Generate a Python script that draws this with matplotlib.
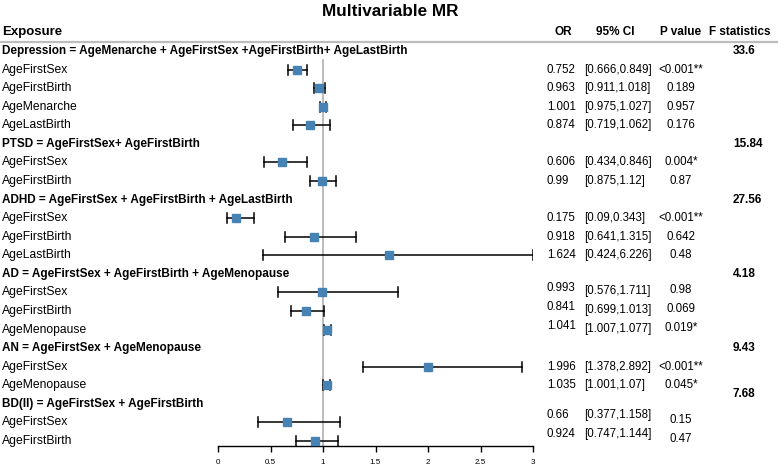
import numpy as np
import matplotlib.pyplot as plt

plt.rcParams['font.family'] = ['Liberation Sans', 'DejaVu Sans']

# data
group_titles = [
    'Depression = AgeMenarche + AgeFirstSex +AgeFirstBirth+ AgeLastBirth',
    'PTSD = AgeFirstSex+ AgeFirstBirth',
    'ADHD = AgeFirstSex + AgeFirstBirth + AgeLastBirth',
    'AD = AgeFirstSex + AgeFirstBirth + AgeMenopause',
    'AN = AgeFirstSex + AgeMenopause',
    'BD(II) = AgeFirstSex + AgeFirstBirth',
]
f_stats = ['33.6', '15.84', '27.56', '4.18', '9.43', '7.68']
exposures = [
    ['AgeFirstSex', 'AgeFirstBirth', 'AgeMenarche', 'AgeLastBirth'],
    ['AgeFirstSex', 'AgeFirstBirth'],
    ['AgeFirstSex', 'AgeFirstBirth', 'AgeLastBirth'],
    ['AgeFirstSex', 'AgeFirstBirth', 'AgeMenopause'],
    ['AgeFirstSex', 'AgeMenopause'],
    ['AgeFirstSex', 'AgeFirstBirth'],
]
or_vals = [
    [0.752, 0.963, 1.001, 0.874],
    [0.606, 0.99],
    [0.175, 0.918, 1.624],
    [0.993, 0.841, 1.041],
    [1.996, 1.035],
    [0.66, 0.924],
]
ci_lo = [
    [0.666, 0.911, 0.975, 0.719],
    [0.434, 0.875],
    [0.09, 0.641, 0.424],
    [0.576, 0.699, 1.007],
    [1.378, 1.001],
    [0.377, 0.747],
]
ci_hi = [
    [0.849, 1.018, 1.027, 1.062],
    [0.846, 1.12],
    [0.343, 1.315, 6.226],
    [1.711, 1.013, 1.077],
    [2.892, 1.07],
    [1.158, 1.144],
]
p_vals = [
    ['<0.001**', '0.189', '0.957', '0.176'],
    ['0.004*', '0.87'],
    ['<0.001**', '0.642', '0.48'],
    ['0.98', '0.069', '0.019*'],
    ['<0.001**', '0.045*'],
    ['0.15', '0.47'],
]
x_ticks = [0, 0.5, 1, 1.5, 2, 2.5, 3]

W, H = 778, 465
fig = plt.figure(figsize=(W / 100, H / 100), dpi=100)

# overlay for text in pixel coords
tab = fig.add_axes([0, 0, 1, 1])
tab.set_xlim(0, W)
tab.set_ylim(H, 0)
tab.axis('off')

axis_y = 446
top_y = 42
ax = fig.add_axes([218 / W, (H - axis_y) / H, 315 / W, (axis_y - top_y) / H])
ax.set_xlim(0, 3)
ax.set_ylim(axis_y, top_y)
ax.patch.set_alpha(0)
for s in ['top', 'left', 'right']:
    ax.spines[s].set_visible(False)
ax.spines['bottom'].set_linewidth(1.0)
ax.set_yticks([])
ax.set_xticks(x_ticks)
ax.set_xticklabels([f'{t:g}' for t in x_ticks], fontsize=5.8)
ax.tick_params(axis='x', length=4, width=1.0, pad=5)

fs = 8.7      # exposure labels
fb = 8.5      # bold group rows
fn = 8.3      # numbers
tab.text(390, 12, 'Multivariable MR', ha='center', va='center', fontsize=12.3, fontweight='bold')
tab.text(2, 32, 'Exposure', ha='left', va='center', fontsize=9.5, fontweight='bold')
tab.text(563, 32, 'OR', ha='center', va='center', fontsize=fb, fontweight='bold')
tab.text(615, 32, '95% CI', ha='center', va='center', fontsize=fb, fontweight='bold')
tab.text(681, 32, 'P value', ha='center', va='center', fontsize=fb, fontweight='bold')
tab.text(740, 32, 'F statistics', ha='center', va='center', fontsize=fb, fontweight='bold')
tab.plot([0, W], [42, 42], color='#bdbdbd', lw=1.6)

# small vertical shifts of the number columns seen in the original table
or_shift = {3: -4, 5: -7}
ci_shift = {3: -1, 5: -7}
p_shift = {3: -2, 5: -2}

step = (441 - 51) / 21
row = 0
for g, title in enumerate(group_titles):
    y = 51 + row * step
    tab.text(2, y, title, ha='left', va='center', fontsize=fb, fontweight='bold')
    fy = y - 10 if g == len(group_titles) - 1 else y
    tab.text(733, fy, f_stats[g], ha='left', va='center', fontsize=fb, fontweight='bold')
    row += 1
    for k, name in enumerate(exposures[g]):
        y = 51 + row * step
        lo, hi, est = ci_lo[g][k], ci_hi[g][k], or_vals[g][k]
        tab.text(2, y, name, ha='left', va='center', fontsize=fs)
        tab.text(547, y + or_shift.get(g, 0), f'{est:g}', ha='left', va='center', fontsize=fn)
        tab.text(584, y + ci_shift.get(g, 0), f'[{lo:g},{hi:g}]', ha='left', va='center', fontsize=fn)
        tab.text(681, y + p_shift.get(g, 0), p_vals[g][k], ha='center', va='center', fontsize=fn)
        hi_c = min(hi, 3)
        ax.plot([lo, hi_c], [y, y], color='black', lw=1.1, zorder=3)
        ax.plot([lo, lo], [y - 5, y + 5], color='black', lw=1.1, zorder=3)
        ax.plot([hi_c, hi_c], [y - 5, y + 5], color='black', lw=1.1, zorder=3)
        ax.plot(est, y, marker='s', ms=5.2, color='#4682b4', mec='#4682b4', zorder=4)
        row += 1

ax.plot([1, 1], [51 + 0.5 * step, axis_y], color='#b5b5b5', lw=1.3, zorder=1)

fig.savefig('out.png', dpi=100)
